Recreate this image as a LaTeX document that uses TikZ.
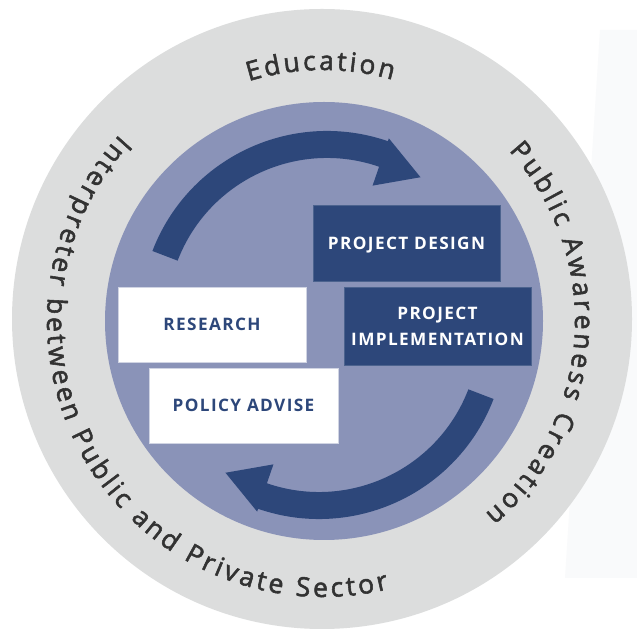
\documentclass[tikz,border=0pt]{standalone}
\usepackage{fontspec}
\setmainfont{Open Sans}
\newfontfamily\ringfont[FakeBold=2]{Open Sans}
\newfontfamily\boxfont[LetterSpace=8]{Open Sans}
\usetikzlibrary{decorations.text}
\definecolor{ringgray}{RGB}{220,221,221}
\definecolor{innerblue}{RGB}{138,147,184}
\definecolor{darkblue}{RGB}{45,71,122}
\definecolor{ringtext}{RGB}{50,50,50}
\definecolor{faintbg}{RGB}{249,250,251}
\tikzset{
  bluebox/.style={fill=darkblue, draw=darkblue!85!white, line width=0.8pt, text=white,
    font=\boxfont\bfseries\fontsize{17.2}{26}\selectfont, align=center, inner sep=0pt,
    minimum width=187pt},
  whitebox/.style={fill=white, draw=innerblue!40!white, line width=0.8pt, text=darkblue,
    font=\boxfont\bfseries\fontsize{17.2}{26}\selectfont, align=center, inner sep=0pt,
    minimum width=188pt, minimum height=75pt, text height=12.3pt, text depth=0pt},
  ringlabel/.style={decorate, decoration={text along path, text align=fit to path,
    text color=ringtext}},
  cyclearrow/.style={fill=darkblue}
}
\begin{document}
\begin{tikzpicture}[x=1pt,y=1pt]
\useasboundingbox (0,0) rectangle (637,631);
\fill[white] (0,0) rectangle (637,631);
\fill[faintbg] (600,601) -- (637,601) -- (637,53) -- (565,53) -- cycle;
% rings
\node[circle, fill=ringgray, minimum size=620pt, inner sep=0pt] (outer) at (322,312) {};
\node[circle, fill=innerblue, minimum size=438pt, inner sep=0pt] (inner) at (324,310) {};
% ring texts
\path[ringlabel, shift={(323,310)}, decoration={text={|\ringfont\fontsize{26.5}{26.5}\selectfont|Education}}]
  (107.2:251) arc[start angle=107.2, end angle=73.9, radius=251];
\path[ringlabel, shift={(323,310)}, decoration={text={|\ringfont\fontsize{26.5}{26.5}\selectfont|Public Awareness Creation}}]
  (42.5:252) arc[start angle=42.5, end angle=-50, radius=252];
\path[ringlabel, shift={(323,310)}, decoration={text={|\ringfont\fontsize{26.5}{26.5}\selectfont|Interpreter between Public and Private Sector}}]
  (137.5:276) arc[start angle=137.5, end angle=283.8, radius=276];
% cycle arrows
\begin{scope}[shift={(327,313)}]
  \fill[cyclearrow] (159:187) arc[start angle=159, end angle=71, radius=187]
    -- (71:190) -- (56.4:169) -- (71:140) -- (71:160)
    arc[start angle=71, end angle=159, radius=160] -- cycle;
\end{scope}
\begin{scope}[rotate around={180:(323,306)}, shift={(327,313)}]
  \fill[cyclearrow] (159:187) arc[start angle=159, end angle=71, radius=187]
    -- (71:190) -- (56.4:169) -- (71:140) -- (71:160)
    arc[start angle=71, end angle=159, radius=160] -- cycle;
\end{scope}
% boxes
\node[bluebox, minimum height=76pt, text height=12.3pt, text depth=0pt] (design) at (406.5,388) {PROJECT DESIGN};
\node[bluebox, minimum height=78pt] (impl) at (437.5,305) {PROJECT\\IMPLEMENTATION};
\node[whitebox] (research) at (212,306.5) {RESEARCH};
\node[whitebox, minimum width=189pt] (policy) at (243.5,225.5) {POLICY ADVISE};
\end{tikzpicture}
\end{document}
